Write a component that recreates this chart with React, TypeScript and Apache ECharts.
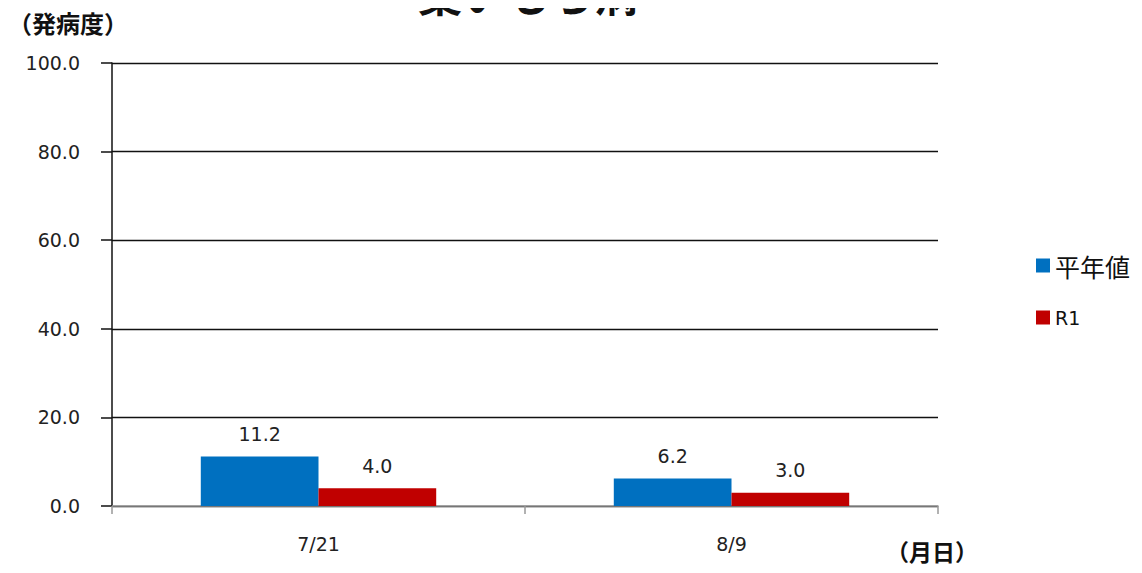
import React, { useEffect, useRef } from "react";
import * as echarts from "echarts";

const categories = ["7/21", "8/9"];
const normalYear = [11.2, 6.2];
const r1 = [4.0, 3.0];
const seriesNames = ["平年値", "R1"];
const yTicks = { min: 0, max: 100, interval: 20 };

const FONT = "'Noto Sans CJK JP', 'Noto Sans', sans-serif";
const NUM_FONT = "'DejaVu Sans', 'Noto Sans', sans-serif";

export default function App() {
  const ref = useRef<HTMLDivElement>(null);

  useEffect(() => {
    if (!ref.current) return;
    const chart = echarts.init(ref.current, undefined, { renderer: "svg" });
    const barLabel = {
      show: true,
      position: "top" as const,
      distance: 13,
      fontSize: 19,
      color: "#222",
      fontFamily: NUM_FONT,
      formatter: (p: any) => Number(p.value).toFixed(1),
    };
    chart.setOption({
      animation: false,
      backgroundColor: "#fff",
      textStyle: { fontFamily: FONT },
      grid: { left: 112, right: 204, top: 63, bottom: 67 },
      graphic: [
        {
          type: "text",
          left: 418,
          top: -29,
          style: {
            text: "葉いもち病",
            fontSize: 44,
            fontWeight: "bold",
            fill: "#111",
            fontFamily: FONT,
          },
        },
        {
          type: "text",
          left: 8,
          top: 10,
          style: {
            text: "（発病度）",
            fontSize: 24,
            fontWeight: "bold",
            fill: "#111",
            fontFamily: FONT,
          },
        },
        {
          type: "text",
          left: 886,
          top: 539,
          style: {
            text: "（月日）",
            fontSize: 23,
            fontWeight: "bold",
            fill: "#111",
            fontFamily: FONT,
          },
        },
      ],
      legend: {
        orient: "vertical",
        left: 1031,
        top: 248,
        itemWidth: 14,
        itemHeight: 14,
        itemGap: 30,
        icon: "rect",
        formatter: (name: string) =>
          name === seriesNames[0] ? `{big|${name}}` : `{small|${name}}`,
        textStyle: {
          color: "#111",
          fontFamily: FONT,
          rich: {
            big: { fontSize: 25, fontFamily: FONT, color: "#111" },
            small: { fontSize: 19, fontFamily: NUM_FONT, color: "#111" },
          },
        },
        data: seriesNames,
      },
      xAxis: {
        type: "category",
        data: categories,
        axisLine: { lineStyle: { color: "#999", width: 1.5 } },
        axisTick: { show: true, length: 8, lineStyle: { color: "#999", width: 1.5 } },
        axisLabel: { fontSize: 19, color: "#222", margin: 28, fontFamily: NUM_FONT },
      },
      yAxis: {
        type: "value",
        min: yTicks.min,
        max: yTicks.max,
        interval: yTicks.interval,
        axisLine: { show: true, lineStyle: { color: "#111", width: 1.5 } },
        axisTick: { show: true, length: 11, lineStyle: { color: "#111", width: 1.5 } },
        axisLabel: {
          fontSize: 19,
          color: "#222",
          margin: 32,
          fontFamily: NUM_FONT,
          formatter: (v: number) => v.toFixed(1),
        },
        splitLine: { lineStyle: { color: "#111", width: 1.3 } },
      },
      series: [
        {
          name: seriesNames[0],
          type: "bar",
          data: normalYear,
          barGap: "0%",
          barCategoryGap: "43%",
          itemStyle: { color: "#0070C0" },
          label: barLabel,
        },
        {
          name: seriesNames[1],
          type: "bar",
          data: r1,
          barGap: "0%",
          barCategoryGap: "43%",
          itemStyle: { color: "#C00000" },
          label: barLabel,
        },
      ],
    });
    return () => chart.dispose();
  }, []);

  return <div ref={ref} style={{ width: 1142, height: 573, margin: -8 }} />;
}
